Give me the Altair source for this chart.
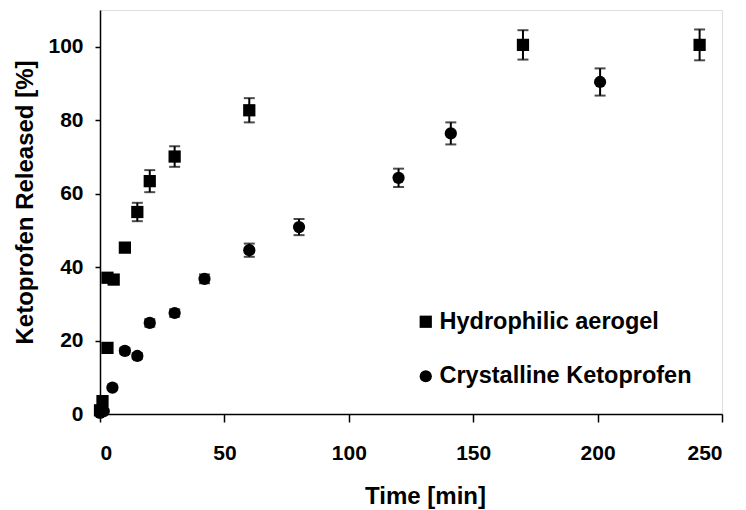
import altair as alt
import pandas as pd

# Hydrophilic aerogel
aero_t = [0, 1, 3, 3, 5.5, 10, 15, 20, 30, 60, 170, 241]
aero_y = [1.0, 3.5, 18.0, 37.1, 36.6, 45.3, 55.0, 63.4, 70.1, 82.7, 100.5, 100.5]
aero_e = [0.5, 0.5, 0.5, 0.5, 0.5, 1.0, 2.5, 3.0, 2.8, 3.3, 4.0, 4.2]

# Crystalline Ketoprofen
cryst_t = [0, 1.5, 5, 10, 15, 20, 30, 42, 60, 80, 120, 141, 201]
cryst_y = [0.3, 0.8, 7.2, 17.2, 15.8, 24.8, 27.5, 36.8, 44.6, 50.9, 64.3, 76.4, 90.4]
cryst_e = [0.3, 0.3, 0.5, 0.8, 0.8, 1.0, 1.0, 1.2, 1.8, 2.2, 2.5, 3.0, 3.7]

series_names = ["Hydrophilic aerogel", "Crystalline Ketoprofen"]
x_ticks = [0, 50, 100, 150, 200, 250]
y_ticks = [0, 20, 40, 60, 80, 100]

rows = []
for t, y, e in zip(aero_t, aero_y, aero_e):
    rows.append({"t": t, "y": y, "lo": y - e, "hi": y + e, "s": series_names[0]})
for t, y, e in zip(cryst_t, cryst_y, cryst_e):
    rows.append({"t": t, "y": y, "lo": y - e, "hi": y + e, "s": series_names[1]})
df = pd.DataFrame(rows)

FONT = "Liberation Sans"

xscale = alt.Scale(domain=[0, 250], nice=False, zero=False)
yscale = alt.Scale(domain=[0, 110], nice=False)

xaxis = alt.Axis(values=x_ticks, title="Time [min]", grid=False, tickSize=8,
                 labelPadding=20, labelFontSize=21, labelFont=FONT, labelFontWeight="bold",
                 titleFontSize=24, titleFont=FONT, titleFontWeight="bold",
                 titleX=325, titleY=89, titleBaseline="alphabetic", titleAlign="center",
                 domainColor="black", domainWidth=1.5, tickColor="black", tickWidth=1.5,
                 labelColor="black", titleColor="black")
yaxis = alt.Axis(values=y_ticks, title="Ketoprofen Released [%]", grid=False, tickSize=5,
                 labelPadding=12, labelFontSize=21, labelFont=FONT, labelFontWeight="bold",
                 titleFontSize=24, titleFont=FONT, titleFontWeight="bold",
                 titleAngle=-90, titleX=-68, titleY=192, titleBaseline="alphabetic",
                 titleAlign="center",
                 domainColor="black", domainWidth=1.5, tickColor="black", tickWidth=1.5,
                 labelColor="black", titleColor="black")

base = alt.Chart(df)

rules = base.mark_rule(color="black", strokeWidth=2).encode(
    x=alt.X("t:Q", scale=xscale, axis=xaxis),
    y=alt.Y("lo:Q", scale=yscale, axis=yaxis),
    y2="hi:Q",
)
caps_hi = base.mark_tick(color="black", thickness=2, size=11, orient="horizontal").encode(
    x=alt.X("t:Q", scale=xscale), y=alt.Y("hi:Q", scale=yscale))
caps_lo = base.mark_tick(color="black", thickness=2, size=11, orient="horizontal").encode(
    x=alt.X("t:Q", scale=xscale), y=alt.Y("lo:Q", scale=yscale))

points = base.mark_point(filled=True, color="black", opacity=1, size=150).encode(
    x=alt.X("t:Q", scale=xscale),
    y=alt.Y("y:Q", scale=yscale),
    shape=alt.Shape("s:N", scale=alt.Scale(domain=series_names, range=["square", "circle"]),
                    legend=alt.Legend(title=None, orient="none", legendX=314, legendY=300,
                                      symbolSize=150, symbolFillColor="black",
                                      symbolStrokeColor="black", symbolStrokeWidth=0,
                                      labelFontSize=23.5, labelFont=FONT, labelFontWeight="bold",
                                      labelColor="black", labelOffset=2, rowPadding=29.5,
                                      padding=0, labelLimit=400)),
)

chart = (rules + caps_hi + caps_lo + points).properties(
    width=622, height=404,
    autosize=alt.AutoSizeParams(type="none"),
    padding={"left": 100, "top": 10, "right": 24, "bottom": 96},
).configure_view(stroke="#444444", strokeWidth=1.5).configure(background="white")

chart.save("out.html", embed_options={"renderer": "svg", "actions": False})
